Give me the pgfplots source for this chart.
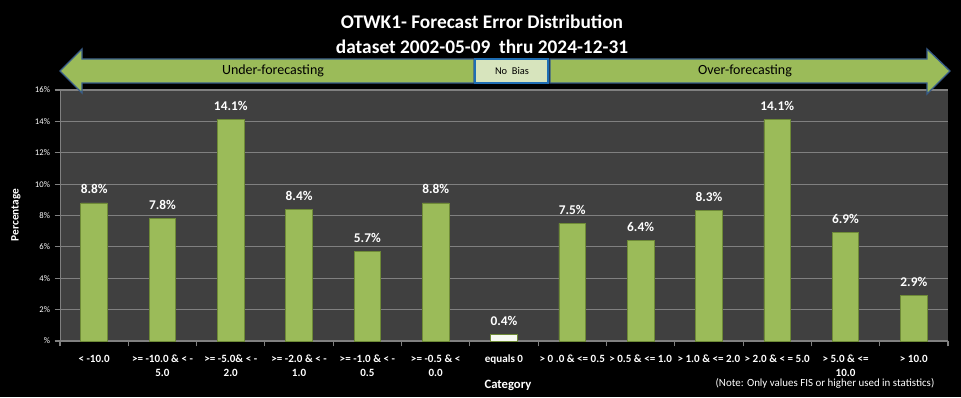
\documentclass[border=0pt]{standalone}
\usepackage{pgfplots}
\pgfplotsset{compat=1.18}
\usepackage{fontspec}
\setmainfont{Carlito}
\definecolor{bargreen}{RGB}{155,187,89}
\definecolor{bargreenD}{RGB}{110,138,55}
\definecolor{plotbg}{RGB}{64,64,64}
\definecolor{gridc}{RGB}{128,128,128}
\definecolor{arrowline}{RGB}{56,93,138}
\definecolor{nobias}{RGB}{215,228,189}
\definecolor{nobiasline}{RGB}{31,110,180}
\begin{document}
\begin{tikzpicture}
\fill[black] (0,0) rectangle (720.75pt,297.75pt);
\begin{axis}[
  at={(45pt,42pt)}, anchor=south west,
  scale only axis, width=666pt, height=188.25pt,
  xmin=-0.5, xmax=12.5, ymin=0, ymax=16,
  axis background/.style={fill=plotbg},
  axis x line*=bottom, axis y line*=left,
  axis line style={gridc},
  ymajorgrids, grid style={gridc, line width=0.8pt},
  ytick={0,2,...,16},
  yticklabels={\%,2\%,4\%,6\%,8\%,10\%,12\%,14\%,16\%},
  xtick={0,...,12},
  xticklabels={{< -10.0},{>= -10.0 \& < -\\5.0},{>= -5.0\& < -\\2.0},{>= -2.0 \& < -\\1.0},{>= -1.0 \& < -\\0.5},{>= -0.5 \& <\\0.0},{equals 0},{> 0 .0 \& <= 0.5},{> 0.5 \& <= 1.0},{> 1.0 \& <= 2.0},{> 2.0 \& < = 5.0},{> 5.0 \& <=\\10.0},{> 10.0}},
  minor xtick={-0.5,0.5,...,12.5},
  major x tick style={draw=none},
  tick align=outside, tick style={gridc, line width=0.8pt},
  major tick length=4pt, minor tick length=4pt,
  xticklabel style={white, font=\bfseries\fontsize{8.3}{10.5}\selectfont, align=center, anchor=north, yshift=-3pt},
  yticklabel style={white, font=\fontsize{6.5}{7}\selectfont},
  /pgf/number format/assume math mode=true,
  ybar, bar width=20pt,
  nodes near coords={\pgfmathprintnumber[fixed,fixed zerofill,precision=1]{\pgfplotspointmeta}\%},
  nodes near coords style={white, font=\bfseries\fontsize{10}{11}\selectfont, anchor=south, yshift=3pt},
  point meta=y,
]
\addplot[bar shift=0pt, fill=bargreen, draw=bargreenD, line width=0.6pt] coordinates {
(0,8.8) (1,7.8) (2,14.1) (3,8.4) (4,5.7) (5,8.8)
(7,7.5) (8,6.4) (9,8.3) (10,14.1) (11,6.9) (12,2.9)};
\addplot[bar shift=0pt, fill=white!92!bargreen, draw=bargreenD, line width=0.6pt] coordinates {(6,0.4)};
\end{axis}
\begin{scope}[x=0.75pt,y=-0.75pt,yshift=297.75pt]
\filldraw[fill=bargreen, draw=arrowline, line width=1pt] (60,71) -- (82,49) -- (82,59) -- (474,59) -- (474,83) -- (82,83) -- (82,93) -- cycle;
\filldraw[fill=bargreen, draw=arrowline, line width=1pt] (550,59) -- (927,59) -- (927,49) -- (950,71) -- (927,94) -- (927,83) -- (550,83) -- cycle;
\filldraw[fill=nobias, draw=nobiasline, line width=1.2pt] (475,59) rectangle (548,83);
\node[black, font=\fontsize{10.5}{12}\selectfont] at (273,71) {Under-forecasting};
\node[black, font=\fontsize{10.5}{12}\selectfont] at (745,71) {Over-forecasting};
\node[black, font=\fontsize{7.8}{9}\selectfont] at (512,71) {No\ \ Bias};
\node[white, font=\bfseries\fontsize{14.5}{17}\selectfont] at (482,22) {OTWK1- Forecast Error Distribution};
\node[white, font=\bfseries\fontsize{14.5}{17}\selectfont] at (482,47) {dataset 2002-05-09\ \ thru 2024-12-31};
\node[white, font=\bfseries\fontsize{8.5}{10}\selectfont, rotate=90] at (16,215) {Percentage};
\node[white, font=\bfseries\fontsize{9.5}{11}\selectfont] at (508,385) {Category};
\node[white, font=\fontsize{8.2}{9}\selectfont] at (825,383) {(Note: Only values FIS or higher used in statistics)};
\end{scope}
\useasboundingbox (0,0) rectangle (720.75pt,297.75pt);
\end{tikzpicture}
\end{document}
